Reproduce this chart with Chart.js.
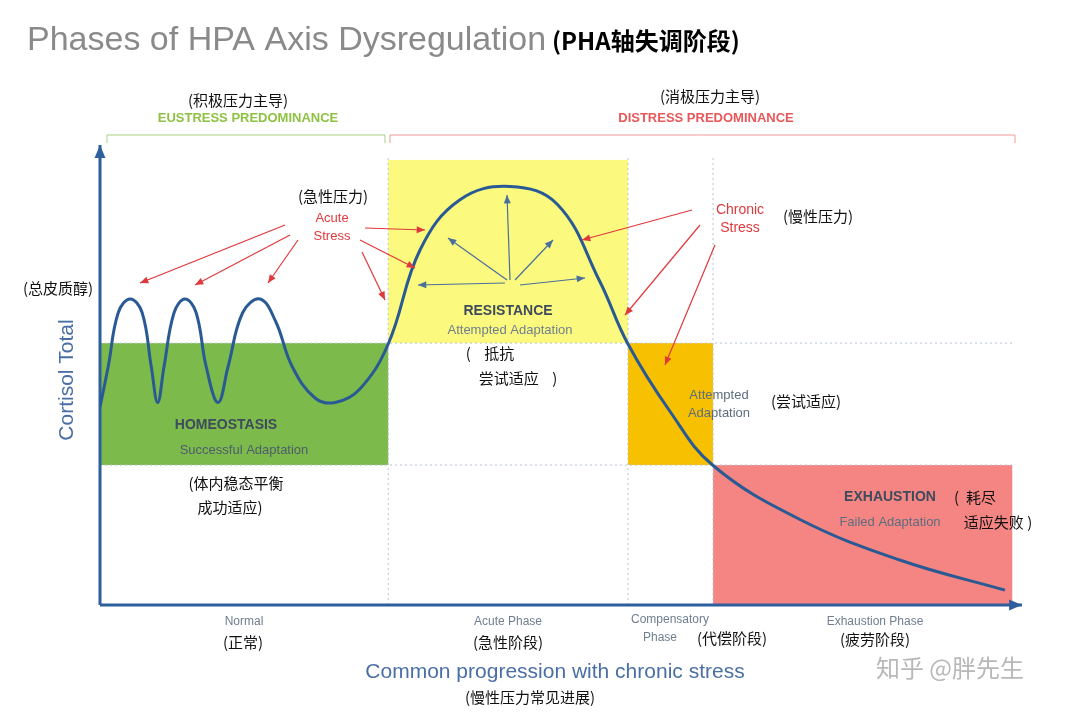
<!DOCTYPE html>
<html><head><meta charset="utf-8">
<script src="https://cdn.jsdelivr.net/npm/chart.js@4"></script>
<style>body{margin:0;background:#fff}#c{display:block}</style>
</head><body>
<canvas id="c" width="1080" height="715"></canvas>
<script>
// curve (x: progression 0-100, y: cortisol 0-100)
const curveX = [0,0.9,2,3.3,4.6,5.6,6.3,7,8.1,9.3,10.5,11.6,12.9,14,15.6,17.5,19.2,21,23.5,25.7,28.4,31.5,35,39.3,44.8,50,54.6,57.7,62.3,67,76.5,87.4,98.9];
const curveY = [44,53,65,68,65,53,45,53,65,68,65,53,45,53,65,68,63,53,46,45,48,58,79,90,93,89,72,58,43,31,19,10,3.3];
// phase boxes [x0,x1,y0,y1,colour]
const boxes = [
  [0,31.5,31.1,58.2,'#7dba4c'],
  [31.5,57.7,58.2,98.9,'#fbf97e'],
  [57.7,67,31.1,58.2,'#f7c000'],
  [67,99.7,0,31.1,'#f48583']
];
const gridX = [31.5,57.7,67];
const gridY = [31.1,58.2];

const pts = curveX.map((x,i)=>({x, y: curveY[i]}));
const CJK = '"Noto Sans CJK SC"', LAT = '"Liberation Sans", Arial';

function arrow(ctx,x1,y1,x2,y2,col,w,h){
  ctx.strokeStyle=col;ctx.fillStyle=col;ctx.lineWidth=w;
  ctx.beginPath();ctx.moveTo(x1,y1);ctx.lineTo(x2,y2);ctx.stroke();
  const a=Math.atan2(y2-y1,x2-x1);
  ctx.beginPath();ctx.moveTo(x2,y2);
  ctx.lineTo(x2-h*Math.cos(a-0.4),y2-h*Math.sin(a-0.4));
  ctx.lineTo(x2-h*Math.cos(a+0.4),y2-h*Math.sin(a+0.4));
  ctx.closePath();ctx.fill();
}
function txt(ctx,s,x,y,col,size,font,weight,align){
  ctx.fillStyle=col;ctx.font=(weight||'')+' '+size+'px '+font;
  ctx.textAlign=align||'center';ctx.textBaseline='middle';ctx.fillText(s,x,y);
}

const backdrop = {
  id:'backdrop',
  beforeDatasetsDraw(chart){
    const {ctx, scales:{x,y}, chartArea:a} = chart;
    ctx.save();
    boxes.forEach(b=>{
      ctx.fillStyle=b[4];
      ctx.fillRect(x.getPixelForValue(b[0]),y.getPixelForValue(b[3]),
        x.getPixelForValue(b[1])-x.getPixelForValue(b[0]),y.getPixelForValue(b[2])-y.getPixelForValue(b[3]));
    });
    ctx.setLineDash([2,3]);ctx.strokeStyle='#b8c4d6';ctx.lineWidth=1;
    gridX.forEach(v=>{const p=x.getPixelForValue(v);ctx.beginPath();ctx.moveTo(p,158);ctx.lineTo(p,a.bottom);ctx.stroke();});
    gridY.forEach(v=>{const p=y.getPixelForValue(v);ctx.beginPath();ctx.moveTo(a.left,p);ctx.lineTo(1012,p);ctx.stroke();});
    ctx.setLineDash([]);
    // axes
    arrow(ctx,a.left,a.bottom,a.left,145,'#2e5e9c',3,14);
    arrow(ctx,a.left,a.bottom,1022,a.bottom,'#2e5e9c',3,14);
    // brackets
    ctx.lineWidth=1;
    ctx.strokeStyle='#a9cf86';ctx.beginPath();ctx.moveTo(107,143);ctx.lineTo(107,135);ctx.lineTo(385,135);ctx.lineTo(385,143);ctx.stroke();
    ctx.strokeStyle='#ee9a9a';ctx.beginPath();ctx.moveTo(390,143);ctx.lineTo(390,135);ctx.lineTo(1015,135);ctx.lineTo(1015,143);ctx.stroke();
    ctx.restore();
  },
  afterDatasetsDraw(chart){
    const ctx=chart.ctx;ctx.save();
    const red='#e0393c', blue='#4a6f9c';
    [[285,225,140,283],[290,235,195,285],[298,240,268,283],[365,228,425,230],[360,240,415,268],[362,252,385,300],
     [692,210,582,240],[700,225,625,315],[715,245,665,365]].forEach(p=>arrow(ctx,...p,red,1.2,9));
    [[505,283,418,285],[507,280,448,238],[510,280,507,195],[515,280,553,240],[520,285,585,278]].forEach(p=>arrow(ctx,...p,blue,1.2,9));
    const k='#111', g='#6f7f8f', s='#3d4b5c';
    txt(ctx,'Phases of HPA Axis Dysregulation',27,41,'#8a8a8a',34,LAT,'','left');
    txt(ctx,'(PHA轴失调阶段)',552,41,'#000',24,CJK,'bold','left');
    txt(ctx,'(积极压力主导)',238,100,k,15,CJK);
    txt(ctx,'EUSTRESS PREDOMINANCE',248,118,'#8fc244',13,LAT,'bold');
    txt(ctx,'(消极压力主导)',710,96,k,15,CJK);
    txt(ctx,'DISTRESS PREDOMINANCE',706,118,'#e8585a',13,LAT,'bold');
    txt(ctx,'(急性压力)',333,196,k,15,CJK);
    txt(ctx,'Acute',332,218,red,13,LAT);txt(ctx,'Stress',332,236,red,13,LAT);
    txt(ctx,'Chronic',740,210,red,14,LAT);txt(ctx,'Stress',740,228,red,14,LAT);
    txt(ctx,'(慢性压力)',818,216,k,15,CJK);
    txt(ctx,'(总皮质醇)',58,288,k,15,CJK);
    txt(ctx,'RESISTANCE',508,311,s,14,LAT,'bold');
    txt(ctx,'Attempted Adaptation',510,330,g,13,LAT);
    txt(ctx,'(    抵抗',490,353,k,15,CJK);txt(ctx,'尝试适应    )',518,378,k,15,CJK);
    txt(ctx,'HOMEOSTASIS',226,425,s,14,LAT,'bold');
    txt(ctx,'Successful Adaptation',244,450,'#4d5d6d',13,LAT);
    txt(ctx,'(体内稳态平衡',236,483,k,15,CJK);txt(ctx,'成功适应)',230,507,k,15,CJK);
    txt(ctx,'Attempted',719,395,'#5d6d7d',13,LAT);txt(ctx,'Adaptation',719,413,'#5d6d7d',13,LAT);
    txt(ctx,'(尝试适应)',806,401,k,15,CJK);
    txt(ctx,'EXHAUSTION',890,497,s,14,LAT,'bold');txt(ctx,'(  耗尽',975,497,k,15,CJK);
    txt(ctx,'Failed Adaptation',890,522,'#5d6d7d',13,LAT);txt(ctx,'适应失败 )',998,522,k,15,CJK);
    txt(ctx,'Normal',244,622,g,12,LAT);txt(ctx,'(正常)',243,642,k,15,CJK);
    txt(ctx,'Acute Phase',508,622,g,12,LAT);txt(ctx,'(急性阶段)',508,642,k,15,CJK);
    txt(ctx,'Compensatory',670,620,g,12,LAT);
    txt(ctx,'Phase',660,638,g,12,LAT);txt(ctx,'(代偿阶段)',732,638,k,15,CJK);
    txt(ctx,'Exhaustion Phase',875,622,g,12,LAT);txt(ctx,'(疲劳阶段)',875,639,k,15,CJK);
    txt(ctx,'Common progression with chronic stress',555,672,'#4a6fa5',21,LAT);
    txt(ctx,'(慢性压力常见进展)',530,697,k,15,CJK);
    txt(ctx,'知乎 @胖先生',950,668,'#b8b8b8',24,CJK);
    ctx.translate(67,380);ctx.rotate(-Math.PI/2);
    txt(ctx,'Cortisol Total',0,0,'#4a6fa5',21,LAT);
    ctx.restore();
  }
};

new Chart(document.getElementById('c'),{
  type:'line',
  data:{datasets:[{data:pts,borderColor:'#2a5a94',borderWidth:3,pointRadius:0,tension:0.4,fill:false}]},
  options:{
    responsive:false,animation:false,
    layout:{padding:{left:100,right:65,top:155,bottom:110}},
    plugins:{legend:{display:false},tooltip:{enabled:false}},
    scales:{
      x:{type:'linear',min:0,max:100,display:false},
      y:{min:0,max:100,display:false}
    }
  },
  plugins:[backdrop]
});
</script>
</body></html>
